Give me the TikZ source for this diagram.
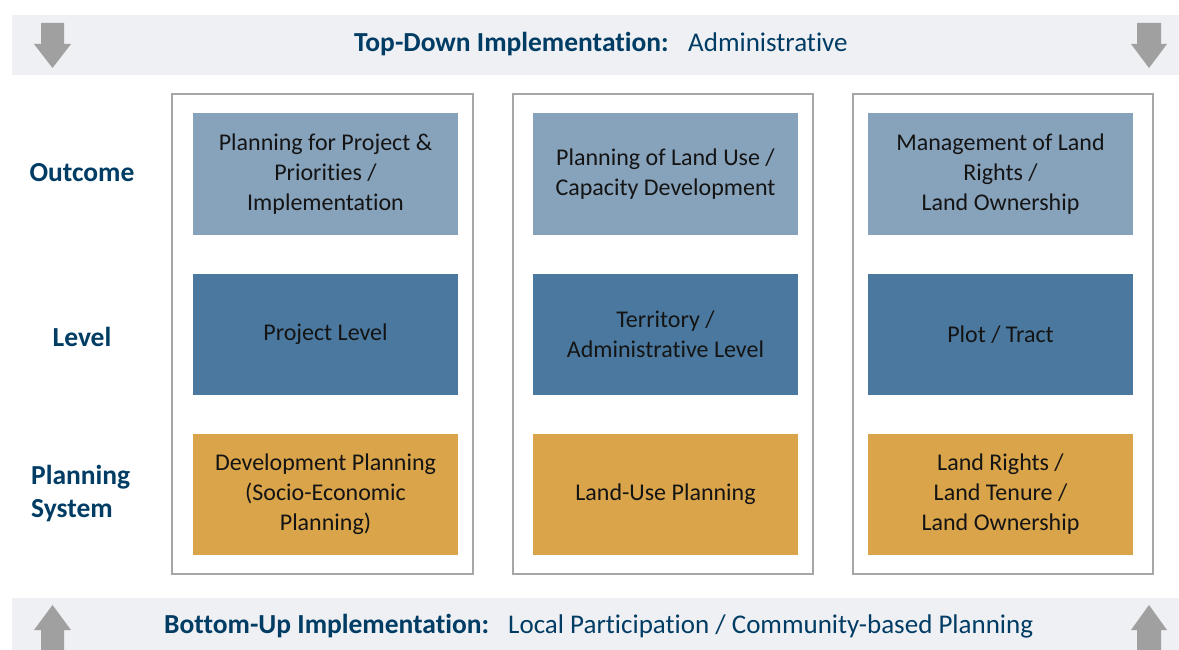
\documentclass[tikz,border=0pt]{standalone}
\usepackage{fontspec}
\setmainfont{Carlito}[Ligatures=NoCommon]
\definecolor{bandgray}{HTML}{EFF0F4}
\definecolor{arrowgray}{HTML}{A0A0A0}
\definecolor{framegray}{HTML}{A6A6A6}
\definecolor{outcomeblue}{HTML}{87A2BB}
\definecolor{levelblue}{HTML}{4A789E}
\definecolor{planorange}{HTML}{D9A44A}
\definecolor{navy}{HTML}{003C64}
\definecolor{boxtext}{HTML}{141414}
\tikzset{
  band/.style={fill=bandgray, draw=none},
  bigarrow/.style={fill=arrowgray, draw=none},
  colframe/.style={draw=framegray, line width=1.5pt, fill=white},
  cellbox/.style={draw=none, minimum width=265pt, minimum height=121pt, inner sep=0pt,
    text width=255pt, align=flush center, text=boxtext, font=\fontsize{24}{30}\selectfont},
  outcomebox/.style={cellbox, fill=outcomeblue},
  levelbox/.style={cellbox, fill=levelblue},
  planbox/.style={cellbox, fill=planorange},
  headbold/.style={inner sep=0pt, text=navy, font=\bfseries\fontsize{27.5}{33}\selectfont},
  headreg/.style={inner sep=0pt, text=navy, font=\fontsize{27}{33}\selectfont},
}
\begin{document}
\begin{tikzpicture}[x=1pt, y=-1pt]
\useasboundingbox (0,0) rectangle (1179,650);
% bands
\fill[band] (12,15) rectangle (1179,75);
\fill[band] (12,598) rectangle (1179,650);
% arrows top
\fill[bigarrow] (41,23) -- (64,23) -- (64,44) -- (71,44) -- (52.5,68) -- (34,44) -- (41,44) -- cycle;
\fill[bigarrow] (1137,23) -- (1161,23) -- (1161,44) -- (1167,44) -- (1149,68) -- (1131,44) -- (1137,44) -- cycle;
% arrows bottom
\fill[bigarrow] (41,650) -- (64,650) -- (64,630) -- (71,630) -- (52.5,605) -- (34,630) -- (41,630) -- cycle;
\fill[bigarrow] (1137,650) -- (1161,650) -- (1161,630) -- (1167,630) -- (1149,605) -- (1131,630) -- (1137,630) -- cycle;
% titles
\node[headbold, anchor=base west] (toptitle) at (354,52) {Top-Down Implementation:};
\node[headreg, anchor=base west] (topsub) at (688,52) {Administrative};
\node[headbold, anchor=base west] (bottitle) at (164,633) {Bottom-Up Implementation:};
\node[headreg, anchor=base west] (botsub) at (508,633) {Local Participation / Community-based Planning};
% row labels
\node[headbold, anchor=base] (loutcome) at (82,182) {Outcome};
\node[headbold, anchor=base] (llevel) at (82,346) {Level};
\node[headbold, anchor=west, align=left] (lplan) at (31,494) {Planning\\System};
% column frames
\draw[colframe] (172,94) rectangle (473,574);
\draw[colframe] (513,94) rectangle (813,574);
\draw[colframe] (853,94) rectangle (1153,574);
% boxes column 1
\node[outcomebox] (o1) at (325.5,174) {Planning for Project \&\\Priorities /\\Implementation};
\node[levelbox] (l1) at (325.5,334.5) {Project Level};
\node[planbox] (p1) at (325.5,494.5) {Development Planning\\(Socio-Economic\\Planning)};
% column 2
\node[outcomebox] (o2) at (665.5,174) {Planning of Land Use /\\Capacity Development};
\node[levelbox] (l2) at (665.5,334.5) {Territory /\\Administrative Level};
\node[planbox] (p2) at (665.5,494.5) {Land-Use Planning};
% column 3
\node[outcomebox] (o3) at (1000.5,174) {Management of Land\\Rights /\\Land Ownership};
\node[levelbox] (l3) at (1000.5,334.5) {Plot / Tract};
\node[planbox] (p3) at (1000.5,494.5) {Land Rights /\\Land Tenure /\\Land Ownership};
\end{tikzpicture}
\end{document}
